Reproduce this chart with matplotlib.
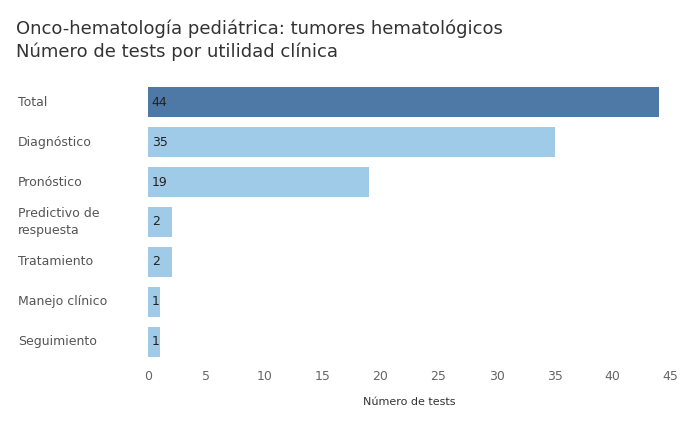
import matplotlib.pyplot as plt
import matplotlib.transforms as mtransforms

categories = ["Total", "Diagnóstico", "Pronóstico", "Predictivo de\nrespuesta",
              "Tratamiento", "Manejo clínico", "Seguimiento"]
values = [44, 35, 19, 2, 2, 1, 1]
xticks = [0, 5, 10, 15, 20, 25, 30, 35, 40, 45]

fig = plt.figure(figsize=(7, 4.34), dpi=100)
ax = fig.add_axes([0.207, 0.166, 0.756, 0.645])

colors = ["#4e79a7"] + ["#a0cbe8"] * (len(values) - 1)
ypos = list(range(len(values)))
ax.barh(ypos, values, height=0.75, color=colors)
for y, v in zip(ypos, values):
    ax.text(0.3, y, str(v), va="center", ha="left", fontsize=9, color="#222222")

# category labels, left-aligned near the figure edge
trans = mtransforms.blended_transform_factory(fig.transFigure, ax.transData)
for y, c in zip(ypos, categories):
    ax.text(18 / 700, y, c, transform=trans, ha="left", va="center",
            fontsize=9, color="#555555", linespacing=1.4)

ax.set_ylim(len(values) - 0.5, -0.5)
ax.set_xlim(-0.3, 45.3)
ax.set_yticks([])
ax.set_xticks(xticks)
ax.tick_params(axis="x", length=0, labelsize=9, labelcolor="#666666", pad=6)
ax.set_xlabel("Número de tests", fontsize=8, color="#333333", labelpad=10)
for s in ax.spines.values():
    s.set_visible(False)

fig.text(0.023, 0.955, "Onco-hematología pediátrica: tumores hematológicos\nNúmero de tests por utilidad clínica",
         fontsize=13, color="#333333", va="top", linespacing=1.3)

fig.savefig("out.png", dpi=100)
